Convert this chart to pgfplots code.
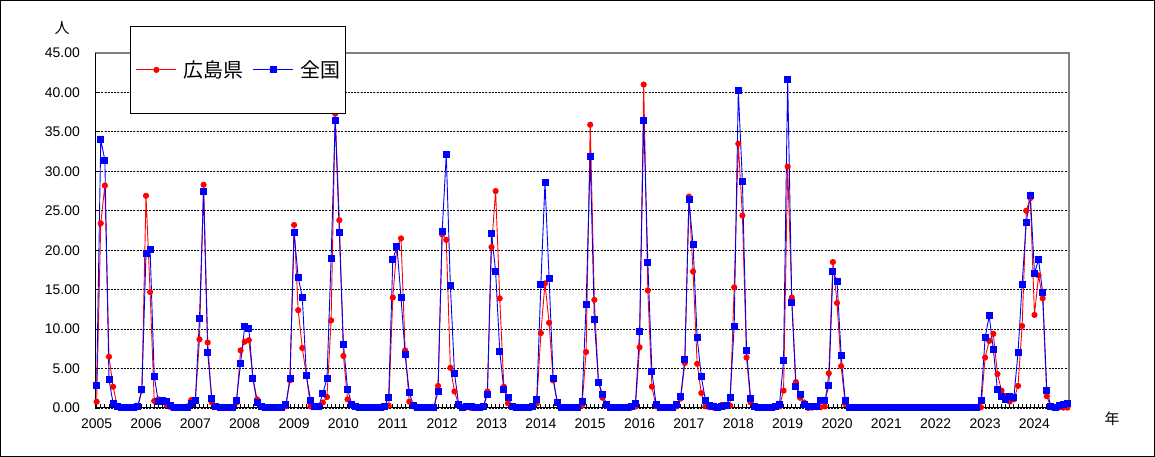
\documentclass[border=0pt]{standalone}
\usepackage{fontspec}
\setmainfont{Liberation Sans}
\newfontfamily\cjk{Noto Sans CJK JP}
\usepackage{pgfplots}
\usepackage{pgfplotstable}
\pgfplotsset{compat=1.18}

\pgfplotstableread{
m zen hiro
0 2.8 0.8
1 34.0 23.4
2 31.4 28.2
3 3.6 6.5
4 0.6 2.7
5 0.2 0.3
6 0.1 0.1
7 0.05 0.0
8 0.05 0.0
9 0.05 0.0
10 0.2 0.1
11 2.4 2.2
12 19.6 26.9
13 20.1 14.7
14 4.0 0.9
15 0.8 1.1
16 0.9 1.0
17 0.8 0.4
18 0.3 0.1
19 0.05 0.0
20 0.05 0.0
21 0.05 0.0
22 0.1 0.2
23 0.6 1.0
24 1.0 0.9
25 11.3 8.7
26 27.5 28.3
27 7.0 8.3
28 1.2 0.7
29 0.2 0.2
30 0.05 0.0
31 0.05 0.0
32 0.05 0.0
33 0.1 0.0
34 1.0 0.7
35 5.7 7.3
36 10.3 8.4
37 10.1 8.6
38 3.7 3.8
39 0.7 1.1
40 0.2 0.1
41 0.05 0.0
42 0.05 0.0
43 0.05 0.0
44 0.05 0.0
45 0.1 0.0
46 0.4 0.2
47 3.8 3.5
48 22.2 23.2
49 16.6 12.4
50 14.0 7.6
51 4.1 4.1
52 1.0 0.2
53 0.2 0.1
54 0.2 0.1
55 1.9 0.7
56 3.7 1.4
57 18.9 11.1
58 36.5 37.3
59 22.2 23.8
60 8.1 6.6
61 2.4 1.1
62 0.5 0.4
63 0.2 0.1
64 0.1 0.05
65 0.05 0.0
66 0.05 0.0
67 0.05 0.0
68 0.05 0.0
69 0.05 0.0
70 0.2 0.1
71 1.4 0.3
72 18.8 14.0
73 20.5 20.5
74 14.0 21.5
75 6.8 7.3
76 2.0 0.8
77 0.3 0.2
78 0.1 0.0
79 0.05 0.0
80 0.05 0.0
81 0.05 0.0
82 0.1 0.0
83 2.1 2.8
84 22.4 22.0
85 32.1 21.3
86 15.5 5.1
87 4.4 2.1
88 0.5 0.4
89 0.1 0.1
90 0.2 0.1
91 0.2 0.0
92 0.05 0.0
93 0.05 0.0
94 0.2 0.1
95 1.7 2.1
96 22.1 20.4
97 17.3 27.5
98 7.2 13.9
99 2.3 2.7
100 1.3 0.6
101 0.2 0.1
102 0.05 0.0
103 0.05 0.0
104 0.05 0.0
105 0.05 0.0
106 0.2 0.1
107 1.1 0.6
108 15.7 9.5
109 28.6 15.8
110 16.4 10.8
111 3.7 3.5
112 0.7 0.7
113 0.1 0.05
114 0.05 0.0
115 0.05 0.0
116 0.05 0.0
117 0.1 0.05
118 0.8 0.3
119 13.1 7.1
120 31.9 35.9
121 11.2 13.7
122 3.3 3.3
123 1.7 1.3
124 0.5 0.3
125 0.1 0.05
126 0.05 0.0
127 0.05 0.0
128 0.05 0.0
129 0.05 0.0
130 0.2 0.05
131 0.6 0.2
132 9.7 7.7
133 36.5 41.0
134 18.5 14.9
135 4.6 2.7
136 0.5 0.2
137 0.1 0.0
138 0.05 0.0
139 0.05 0.0
140 0.1 0.0
141 0.4 0.2
142 1.5 1.2
143 6.2 5.7
144 26.4 26.8
145 20.7 17.3
146 8.9 5.6
147 4.0 1.9
148 1.0 0.2
149 0.3 0.1
150 0.2 0.05
151 0.1 0.05
152 0.2 0.4
153 0.3 0.2
154 1.3 0.3
155 10.4 15.3
156 40.2 33.5
157 28.7 24.4
158 7.3 6.4
159 1.2 0.7
160 0.2 0.1
161 0.05 0.0
162 0.05 0.0
163 0.05 0.0
164 0.1 0.0
165 0.2 0.1
166 0.4 0.2
167 6.0 2.2
168 41.7 30.6
169 13.4 14.0
170 2.7 3.3
171 1.7 1.3
172 0.5 0.7
173 0.2 0.0
174 0.2 0.05
175 0.2 0.1
176 1.0 0.1
177 0.9 0.2
178 2.8 4.4
179 17.3 18.5
180 16.1 13.3
181 6.7 5.3
182 0.9 0.5
183 0.02 0.01
184 0.02 0.01
185 0.02 0.01
186 0.02 0.01
187 0.02 0.01
188 0.02 0.01
189 0.02 0.01
190 0.02 0.01
191 0.02 0.01
192 0.02 0.01
193 0.02 0.01
194 0.02 0.01
195 0.02 0.01
196 0.02 0.01
197 0.02 0.01
198 0.02 0.01
199 0.02 0.01
200 0.02 0.01
201 0.02 0.01
202 0.02 0.01
203 0.02 0.01
204 0.02 0.01
205 0.02 0.01
206 0.02 0.01
207 0.02 0.01
208 0.02 0.01
209 0.02 0.01
210 0.02 0.01
211 0.02 0.01
212 0.02 0.01
213 0.02 0.01
214 0.02 0.01
215 0.9 0.1
216 8.9 6.4
217 11.7 8.5
218 7.4 9.4
219 2.3 4.3
220 1.5 2.2
221 1.1 1.5
222 1.5 0.8
223 1.4 1.1
224 7.0 2.8
225 15.7 10.4
226 23.5 25.0
227 27.0 26.6
228 17.1 11.8
229 18.8 16.8
230 14.6 13.9
231 2.2 1.5
232 0.2 0.1
233 0.1 0.05
234 0.3 0.1
235 0.4 0.05
236 0.6 0.05
}\data

\begin{document}
\begin{tikzpicture}
\useasboundingbox (0,0) rectangle (1155bp,457bp);
\fill[white] (0,0) rectangle (1155bp,457bp);
\draw[black, line width=1bp] (0.5bp,0.5bp) rectangle (1154.5bp,456.5bp);
\begin{axis}[
  at={(95bp,49bp)}, anchor=south west,
  width=974bp, height=355bp, scale only axis,
  xmin=-0.4, xmax=236.4, ymin=0, ymax=45,
  clip=false,
  axis line style={draw=none},
  /pgf/number format/assume math mode=true,
  ytick={0,5,...,45},
  yticklabel={\pgfmathprintnumber[fixed,fixed zerofill,precision=2]{\tick}},
  yticklabel style={font=\fontsize{14}{16}\selectfont, anchor=east, inner sep=0pt, xshift=-15bp},
  xtick={0,12,...,228},
  xticklabels={2005,2006,2007,2008,2009,2010,2011,2012,2013,2014,2015,2016,2017,2018,2019,2020,2021,2022,2023,2024},
  xticklabel style={font=\fontsize{14}{16}\selectfont, anchor=north, inner sep=0pt, yshift=-11bp},
  minor xtick={0,1,...,236},
  xtick pos=bottom, ytick pos=left,
  tick align=inside,
  major tick length=4bp, minor tick length=4bp,
  every tick/.style={black, line width=0.8bp},
  ymajorgrids,
  major grid style={black, line width=0.8bp, dash pattern=on 2bp off 1.2bp},
  legend style={at={(axis description cs:0.147,0.9525)}, anchor=center,
    draw=black, line width=1bp, fill=white,
    font=\fontsize{20}{24}\selectfont\cjk,
    legend columns=2, inner xsep=5bp, inner ysep=34bp,
    nodes={inner sep=0pt},
    column sep=7bp,
    /tikz/every even column/.append style={column sep=9bp}},
  legend image code/.code={\draw[mark repeat=2,mark phase=2,#1] plot coordinates {(0bp,0bp) (20bp,0bp) (40bp,0bp)};},
]
\draw[gray, line width=1.3bp] (rel axis cs:0,1) -- (rel axis cs:1,1) -- (rel axis cs:1,0);
\draw[black, line width=1bp] (rel axis cs:0,1) -- (rel axis cs:0,0) -- (rel axis cs:1,0);
\addplot[red, line width=0.9bp, mark=*, mark size=2.6bp, mark options={solid, fill=red, draw=red}] table[x=m, y=hiro] {\data};
\addlegendentry{広島県}
\addplot[blue, line width=0.9bp, mark=square*, mark size=3bp, mark options={solid, fill=blue, draw=blue}] table[x=m, y=zen] {\data};
\addlegendentry{全国}
\end{axis}
\node[font=\fontsize{15}{18}\selectfont\cjk] at (62bp,429bp) {人};
\node[font=\fontsize{15}{18}\selectfont\cjk] at (1112bp,38bp) {年};
\end{tikzpicture}
\end{document}
